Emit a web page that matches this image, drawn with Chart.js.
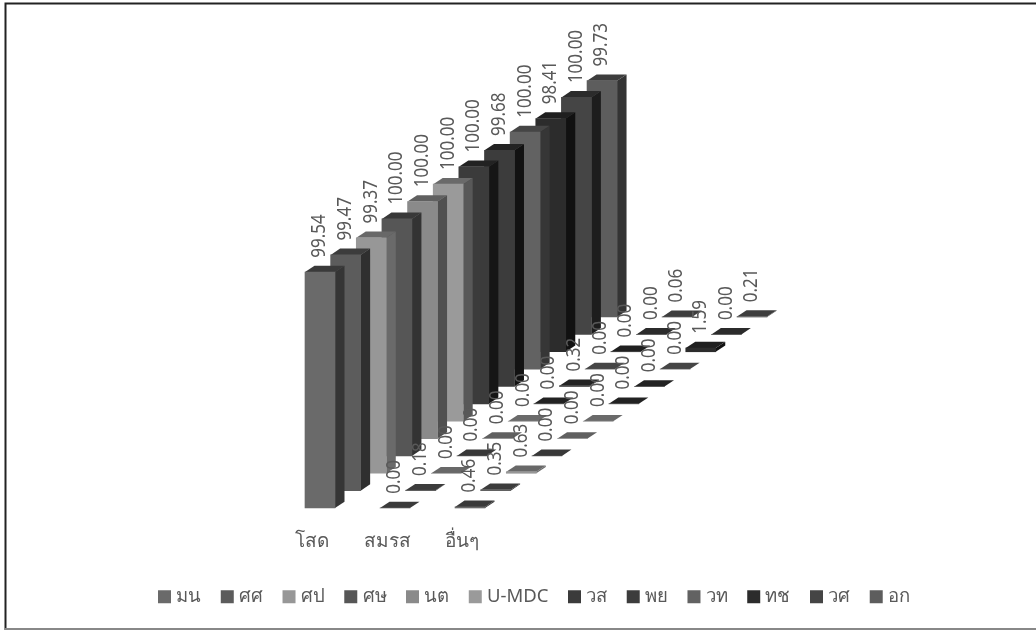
<!DOCTYPE html>
<html><head><meta charset="utf-8">
<script src="https://cdn.jsdelivr.net/npm/chart.js@4"></script>
<style>html,body{margin:0;padding:0;background:#fff}#w{position:relative;width:1036px;height:630px;overflow:hidden}canvas{position:absolute;left:0;top:0;filter:blur(0.5px)}</style>
</head><body><div id="w"><canvas id="c" width="1036" height="630"></canvas></div>
<script>
const categories = ['โสด','สมรส','อื่นๆ'];
const seriesNames = ['มน','ศศ','ศป','ศษ','นต','U-MDC','วส','พย','วท','ทช','วศ','อก'];
const single  = [99.54,99.47,99.37,100,100,100,100,99.68,100,98.41,100,99.73];
const married = [0,0.18,0,0,0,0,0,0.32,0,0,0,0.06];
const others  = [0.46,0.35,0.63,0,0,0,0,0,0,1.59,0,0.21];
const frontColors = ['#6a6a6a','#5c5c5c','#979797','#565656','#8a8a8a','#9a9a9a','#3b3b3b','#3c3c3c','#626262','#2c2c2c','#454545','#5d5d5d'];
const sideColors  = ['#353535','#2f2f2f','#6a6a6a','#333333','#505050','#585858','#161616','#121212','#363636','#111111','#1d1d1d','#343434'];
const topColors   = ['#3a3a3a','#3c3c3c','#686868','#383838','#606060','#6a6a6a','#222222','#232323','#454545','#1f1f1f','#2b2b2b','#3d3d3d'];

const STEP_X = 25.64, STEP_Y = 17.36, DEPTH_X = 9.5, DEPTH_Y = 6.3, CENTER_SHIFT = 8;
const FAMILY = '"Noto Sans","Open Sans",sans-serif';
const labelFont = '17px ' + FAMILY;

const bars3d = {
  id: 'bars3d',
  afterDatasetsUpdate(chart) {
    chart.getSortedVisibleDatasetMetas().forEach(meta => {
      const k = meta.index;
      meta.data.forEach(el => {
        el.x += CENTER_SHIFT + k * STEP_X;
        el.y -= k * STEP_Y;
        el.base -= k * STEP_Y;
      });
    });
  },
  beforeDatasetDraw(chart, args) {
    const k = args.meta.index, ctx = chart.ctx;
    args.meta.data.forEach(el => {
      const l = el.x - el.width / 2, r = el.x + el.width / 2;
      ctx.save();
      ctx.fillStyle = sideColors[k];
      ctx.beginPath();
      ctx.moveTo(r, el.y); ctx.lineTo(r + DEPTH_X, el.y - DEPTH_Y);
      ctx.lineTo(r + DEPTH_X, el.base - DEPTH_Y); ctx.lineTo(r, el.base);
      ctx.closePath(); ctx.fill();
      ctx.fillStyle = topColors[k];
      ctx.beginPath();
      ctx.moveTo(l, el.y); ctx.lineTo(l + DEPTH_X, el.y - DEPTH_Y);
      ctx.lineTo(r + DEPTH_X, el.y - DEPTH_Y); ctx.lineTo(r, el.y);
      ctx.closePath(); ctx.fill();
      ctx.restore();
    });
  },
  afterDatasetsDraw(chart) {
    const ctx = chart.ctx;
    chart.getSortedVisibleDatasetMetas().forEach(meta => {
      const ds = chart.data.datasets[meta.index];
      meta.data.forEach((el, i) => {
        ctx.save();
        ctx.translate(el.x, el.y - DEPTH_Y - 8);
        ctx.rotate(-Math.PI / 2);
        ctx.scale(1, 1.12);
        ctx.font = labelFont;
        ctx.fillStyle = '#595959';
        ctx.textAlign = 'left';
        ctx.textBaseline = 'middle';
        ctx.fillText(ds.data[i].toFixed(2), 0, 0);
        ctx.restore();
      });
    });
  },
  afterDraw(chart) {
    const ctx = chart.ctx;
    ctx.save();
    ctx.strokeStyle = '#222';
    ctx.lineWidth = 2;
    ctx.beginPath();
    ctx.moveTo(5.5, 630); ctx.lineTo(5.5, 3.5); ctx.lineTo(1036, 3.5);
    ctx.stroke();
    ctx.strokeStyle = '#888';
    ctx.beginPath();
    ctx.moveTo(5, 629); ctx.lineTo(1036, 629);
    ctx.stroke();
    ctx.restore();
  }
};

new Chart(document.getElementById('c'), {
  type: 'bar',
  data: {
    labels: categories,
    datasets: seriesNames.map((name, k) => ({
      label: name,
      data: [single[k], married[k], others[k]],
      backgroundColor: frontColors[k],
      borderWidth: 0,
      grouped: false,
      barThickness: 30,
      clip: false
    }))
  },
  plugins: [bars3d],
  options: {
    responsive: false,
    animation: false,
    layout: { padding: { left: 36, top: 271, right: 0, bottom: 14 } },
    plugins: {
      tooltip: { enabled: false },
      legend: {
        position: 'bottom',
        onClick: null,
        labels: {
          usePointStyle: true, pointStyle: 'rect',
          boxWidth: 5, boxHeight: 13, padding: 23.5,
          color: '#595959',
          font: { size: 18.5, family: FAMILY }
        }
      }
    },
    scales: {
      x: {
        offset: true,
        grid: { display: false, drawTicks: false },
        border: { display: false },
        ticks: { color: '#595959', padding: 22, font: { size: 19, family: FAMILY } },
        afterFit(s) { s.height = 56; }
      },
      y: {
        min: 0, max: 100, position: 'left',
        grid: { display: false, drawTicks: false },
        border: { display: false },
        ticks: { display: false },
        afterFit(s) { s.width = 238.5; }
      },
      y2: {
        min: 0, max: 100, position: 'right',
        grid: { display: false, drawTicks: false },
        border: { display: false },
        ticks: { display: false },
        afterFit(s) { s.width = 536.5; }
      }
    }
  }
});
</script></body></html>
